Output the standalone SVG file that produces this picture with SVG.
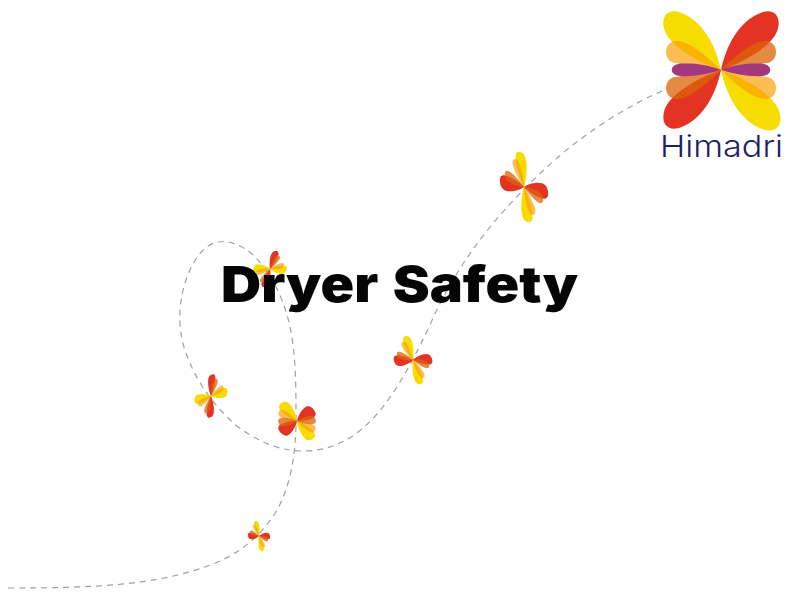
<svg xmlns="http://www.w3.org/2000/svg" width="800" height="600" viewBox="0 0 800 600">
<style>
.y{fill:#F7DC00}.r{fill:#E53323}
.l{fill:#FB9D00;fill-opacity:.67}.o{fill:#DD6409;fill-opacity:.755}
.p{fill:#A4387F}
.dash{fill:none;stroke:#a0a0a0;stroke-width:1.2;stroke-dasharray:6 5}
.title{font-family:Inter,"Liberation Sans",sans-serif;font-weight:900;font-size:50px;fill:#050505;word-spacing:3px}
.brand{font-family:Inter,"Open Sans",sans-serif;font-weight:300;font-size:30px;fill:#1F1F66}
</style>
<defs>
<path id="big" d="M0 0C-5-24-18-50-42-58C-53-61-60-54-57-42C-54-26-26-9 0 0Z"/>
<path id="mid" d="M0 0C-16-16-34-30-46-29C-58-27-58-9-46-7C-32-5-14-2 0 0Z"/>
<path id="pur" d="M0 0C-14-6-28-7-41-6.500C-52-5-52 5-41 6C-28 7-14 4 0 0Z"/>
<path id="sp" d="M0 0C-10-15-24-55-22-80C-20-98-8-100 0-100C8-100 20-98 22-80C24-55 10-15 0 0Z"/>
<g id="wings">
<use href="#big" class="y"/>
<use href="#big" class="r" transform="scale(-1 1)"/>
<use href="#big" class="r" transform="scale(1 -1)"/>
<use href="#big" class="y" transform="scale(-1.03 -1.03)"/>
<use href="#mid" class="l"/>
<use href="#mid" class="o" transform="scale(-1 1)"/>
<use href="#mid" class="o" transform="scale(1 -1)"/>
<use href="#mid" class="l" transform="scale(-1 -1)"/>
</g>
<g id="small">
<use href="#sp" class="y"/>
<use href="#sp" class="y" transform="rotate(180)"/>
<use href="#sp" class="r" transform="rotate(90)"/>
<use href="#sp" class="r" transform="rotate(-90)"/>
<use href="#sp" class="l" transform="rotate(-20) scale(.7 .8)"/>
<use href="#sp" class="l" transform="rotate(160) scale(.7 .8)"/>
<use href="#sp" class="o" transform="rotate(110) scale(.7 .8)"/>
<use href="#sp" class="o" transform="rotate(-70) scale(.7 .8)"/>
</g>
<g id="fat">
<use href="#sp" class="y" transform="scale(1.25 1)"/>
<use href="#sp" class="y" transform="rotate(180) scale(1.25 1)"/>
<use href="#sp" class="r" transform="rotate(90) scale(1.25 1)"/>
<use href="#sp" class="r" transform="rotate(-90) scale(1.25 1)"/>
<use href="#sp" class="l" transform="rotate(-28) scale(.9 .85)"/>
<use href="#sp" class="l" transform="rotate(152) scale(.9 .85)"/>
<use href="#sp" class="o" transform="rotate(118) scale(.9 .85)"/>
<use href="#sp" class="o" transform="rotate(-62) scale(.9 .85)"/>
</g>
</defs>
<g id="connectors">
<path class="dash" d="M8 588C90 588 150 586 205 567C240 555 262 535 277 510C290 487 296 455 296 420C296 385 296 355 290 327C284 297 268 268 252 254C240 244 228 240 218 242C200 245 187 270 182 295C178 315 179 340 190 363C200 388 225 420 247 433C265 444 280 450 300 451C340 452 368 430 393 393C408 370 418 350 430 325C445 290 465 258 490 227C515 197 540 172 570 147C600 124 630 105 662 91"/>
</g>
<g id="butterfly-1"><use href="#small" transform="matrix(.11 0 .03 .15 259 536)"/></g>
<g id="butterfly-2"><use href="#fat" transform="matrix(.165 -.115 .155 .18 297 421)"/></g>
<g id="butterfly-3"><use href="#small" transform="matrix(.01 -.215 .165 -.04 211 396)"/></g>
<g id="butterfly-4"><use href="#small" transform="matrix(.06 -.18 .165 .01 270 269)"/></g>
<g id="butterfly-5"><use href="#small" transform="matrix(.19 -.01 .07 .24 413 360)"/></g>
<g id="butterfly-6"><use href="#small" transform="matrix(.24 .05 .04 .35 524 187)"/></g>
<g id="logo">
<use href="#wings" transform="translate(721 70)"/>
<use href="#pur" class="p" transform="translate(721 70)"/>
<use href="#pur" class="p" transform="translate(721 70) scale(-1 1)"/>
<text class="brand" x="660" y="157" textLength="123" lengthAdjust="spacingAndGlyphs">Himadri</text>
</g>
<g id="title">
<text class="title" x="221" y="302" textLength="357" lengthAdjust="spacingAndGlyphs">Dryer Safety</text>
</g>
</svg>
